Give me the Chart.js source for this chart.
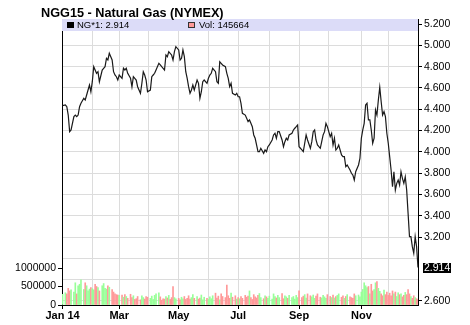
<!DOCTYPE html>
<html>
<head>
<meta charset="utf-8">
<script src="https://cdn.jsdelivr.net/npm/chart.js@4"></script>
<style>
  html, body { margin: 0; padding: 0; background: #fff; }
  #wrap { position: relative; width: 470px; height: 325px; }
</style>
</head>
<body>
<div id="wrap"><canvas id="chart"></canvas></div>
<script>
// ── DATA ─────────────────────────────────────────────────────────────────────
const TITLE  = 'NGG15 - Natural Gas (NYMEX)';
const SYMBOL = 'NG*1';

// trading-day index within 2014 (0 = 2 Jan)
const days = [
  0,2,3,4,5,6,8,9,10,11,12,13,15,16,17,18,19,20,
  21,22,23,24,25,26,28,29,30,31,32,33,35,36,37,38,39,
  40,42,43,44,45,46,48,49,50,51,52,53,55,56,57,58,59,60,
  62,63,64,65,66,68,69,70,71,72,73,74,75,76,77,78,79,80,
  82,83,84,85,86,87,88,89,90,91,92,93,95,96,97,98,99,100,102,
  103,104,105,106,108,109,110,111,112,113,115,116,117,118,119,120,122,123,
  124,125,126,127,129,130,131,132,133,134,135,136,137,138,139,140,142,143,144,145,
  146,148,149,150,151,152,153,155,156,157,158,159,160,162,163,164,165,166,
  167,169,170,171,172,173,175,176,177,178,179,180,182,183,184,185,186,187,
  189,190,191,192,193,194,195,197,198,199,200,201,203,204,205,206,207,209,210,
  211,212,213,214,215,216,217,218,219,220,221,222,223,224,225,226,227,228,229,
  230,231,232,233,234,235,236,237,238,239,240,241,242,243,244,245,246,247,248,249,250,251
];

const prices = [
  4.434,4.440,4.424,4.346,4.190,4.206,4.331,4.346,4.331,4.346,4.424,4.456,4.503,4.487,4.534,4.581,4.628,4.565,
  4.659,4.800,4.769,4.738,4.753,4.659,4.769,4.785,4.800,4.879,4.863,4.926,4.863,4.753,4.722,4.706,4.675,
  4.722,4.691,4.785,4.769,4.785,4.738,4.691,4.612,4.706,4.691,4.675,4.612,4.550,4.644,4.753,4.722,4.675,4.565,
  4.581,4.706,4.722,4.738,4.769,4.832,4.816,4.800,4.785,4.769,4.910,4.894,4.941,4.926,4.910,4.863,4.941,4.988,
  4.957,4.863,4.879,4.957,4.894,4.753,4.691,4.612,4.550,4.581,4.628,4.581,4.675,4.644,4.503,4.565,4.659,4.675,4.644,
  4.691,4.722,4.738,4.785,4.753,4.659,4.644,4.847,4.832,4.816,4.800,4.738,4.691,4.612,4.644,4.550,4.534,4.550,
  4.518,4.518,4.456,4.362,4.346,4.315,4.284,4.300,4.268,4.237,4.159,4.128,4.065,4.002,4.002,4.034,3.987,4.018,4.002,4.049,
  4.065,4.112,4.159,4.175,4.128,4.190,4.190,4.112,4.049,4.096,4.128,4.112,4.159,4.175,4.206,4.222,4.237,4.253,
  4.049,4.018,4.002,4.081,4.159,4.112,4.034,4.096,4.190,4.206,4.112,4.065,4.034,4.096,4.159,4.190,4.268,4.237,
  4.143,4.175,4.065,4.128,4.018,4.034,4.065,3.971,3.955,3.955,3.861,3.877,3.830,3.799,3.783,3.736,3.814,3.877,3.940,
  4.128,4.206,4.268,4.440,4.456,4.300,4.300,4.206,4.081,4.128,4.393,4.346,4.487,4.607,4.471,4.346,4.378,4.331,4.175,
  4.081,3.955,3.830,3.673,3.814,3.642,3.705,3.736,3.689,3.814,3.752,3.705,3.767,3.642,3.423,3.204,3.204,3.110,3.048,3.204,3.110,2.914
];

const volumes = [
  290000,330000,300000,450000,380000,410000,350000,600000,300000,520000,560000,680000,420000,600000,520000,380000,430000,470000,
  440000,410000,560000,500000,470000,380000,520000,580000,450000,430000,520000,480000,420000,350000,300000,280000,270000,
  260000,270000,210000,280000,230000,180000,290000,200000,250000,150000,170000,230000,140000,250000,200000,160000,230000,210000,
  180000,240000,150000,260000,300000,330000,220000,130000,170000,160000,230000,190000,260000,150000,200000,500000,200000,170000,
  180000,140000,210000,170000,230000,150000,180000,250000,160000,200000,280000,180000,230000,160000,190000,270000,140000,210000,180000,
  150000,220000,170000,250000,320000,190000,240000,140000,300000,230000,200000,540000,250000,180000,320000,210000,250000,160000,
  200000,170000,230000,180000,260000,210000,240000,380000,200000,150000,280000,220000,190000,260000,310000,200000,170000,250000,220000,180000,
  240000,160000,300000,230000,190000,260000,200000,310000,170000,250000,220000,180000,260000,200000,230000,160000,260000,200000,
  380000,200000,240000,280000,190000,300000,250000,220000,270000,180000,240000,300000,210000,190000,260000,220000,180000,280000,
  230000,200000,270000,190000,230000,260000,300000,210000,250000,180000,230000,280000,220000,200000,180000,300000,250000,270000,220000,
  350000,420000,600000,520000,470000,500000,300000,560000,380000,420000,600000,630000,450000,370000,300000,250000,400000,280000,350000,
  260000,320000,250000,380000,300000,350000,230000,330000,280000,300000,220000,260000,340000,280000,420000,300000,230000,180000,250000,200000,170000,145664
];

// month starts as trading-day index, labels only on every second month
const monthStarts = [0,21,40,61,82,103,124,146,167,188,211,230];
const monthLabels = ['Jan 14','','Mar','','May','','Jul','','Sep','','Nov',''];
const priceTicks  = [2.6,2.8,3.0,3.2,3.4,3.6,3.8,4.0,4.2,4.4,4.6,4.8,5.0,5.2];
const volTicks    = [0,500000,1000000];

// ── STYLE ────────────────────────────────────────────────────────────────────
const FONT  = "'Liberation Sans', Arial, sans-serif";
const GRID  = '#dcdcdc';
const UP    = '#99ff99';
const DOWN  = '#ff9999';
const lastPrice = prices[prices.length - 1];
const lastVol   = volumes[volumes.length - 1];

const barColors = prices.map((p, i) => (i === 0 || p >= prices[i - 1]) ? UP : DOWN);

// title, legend strip and last-price box
const decor = {
  id: 'decor',
  beforeDatasetsDraw(chart) {
    const { ctx, chartArea: a } = chart;
    ctx.save();
    ctx.fillStyle = '#dcdcf8';
    ctx.fillRect(a.left, a.top, a.right - a.left, 12);

    ctx.font = '9.5px ' + FONT;
    ctx.textBaseline = 'middle';
    ctx.fillStyle = '#000';
    ctx.fillRect(a.left + 5, a.top + 3, 7, 6);
    ctx.fillText(SYMBOL + ': ' + lastPrice.toFixed(3), a.left + 15, a.top + 6.5);

    ctx.fillStyle = DOWN;
    ctx.fillRect(a.left + 126.5, a.top + 3.5, 6, 5);
    ctx.strokeStyle = '#333';
    ctx.lineWidth = 1;
    ctx.strokeRect(a.left + 126.5, a.top + 3.5, 6, 5);
    ctx.fillStyle = '#000';
    ctx.fillText('Vol: ' + lastVol, a.left + 137, a.top + 6.5);
    ctx.restore();
  },
  afterDraw(chart) {
    const { ctx, chartArea: a } = chart;
    ctx.save();
    ctx.fillStyle = '#000';
    ctx.font = 'bold 12.7px ' + FONT;
    ctx.textBaseline = 'alphabetic';
    ctx.fillText(TITLE, 41, 17);

    const py = chart.scales.y.getPixelForValue(lastPrice);
    ctx.fillRect(a.right + 5, Math.round(py) - 5, 28, 10);
    ctx.fillStyle = '#fff';
    ctx.font = '10.5px ' + FONT;
    ctx.textBaseline = 'middle';
    ctx.fillText(lastPrice.toFixed(3), a.right + 6, Math.round(py) + 0.5);
    ctx.restore();
  }
};

new Chart(document.getElementById('chart').getContext('2d'), {
  data: {
    datasets: [
      {
        type: 'line', yAxisID: 'y', order: 0,
        data: days.map((d, i) => ({ x: d, y: prices[i] })),
        borderColor: '#1a1a1a', borderWidth: 1.2, pointRadius: 0, tension: 0
      },
      {
        type: 'bar', yAxisID: 'yv', order: 1,
        data: days.map((d, i) => ({ x: d, y: volumes[i] })),
        backgroundColor: barColors, barThickness: 1
      }
    ]
  },
  options: {
    responsive: true, maintainAspectRatio: false, animation: false,
    layout: { padding: { top: 19, left: 0, right: 0, bottom: 0 } },
    plugins: { legend: { display: false }, tooltip: { enabled: false } },
    scales: {
      x: {
        type: 'linear', position: 'bottom', min: -0.4, max: 251, offset: false,
        afterBuildTicks: s => { s.ticks = monthStarts.map(v => ({ value: v })); },
        afterFit: s => { s.height = 20; },
        grid: { offset: false, color: GRID, tickLength: 4, tickColor: c => monthLabels[c.index] ? '#000' : 'rgba(0,0,0,0)' },
        border: { color: '#000' },
        ticks: {
          autoSkip: false, maxRotation: 0, padding: 0, color: '#000',
          font: { family: FONT, size: 11, weight: 'bold' },
          callback: (v, i) => monthLabels[i]
        }
      },
      y: {
        type: 'linear', position: 'right', min: 2.5624, max: 5.2478,
        afterBuildTicks: s => { s.ticks = priceTicks.map(v => ({ value: v })); },
        afterFit: s => { s.width = 52; },
        grid: {
          color: GRID, tickLength: 4,
          tickColor: c => (c.tick && Math.abs(c.tick.value - lastPrice) < 0.12) ? 'rgba(0,0,0,0)' : '#000'
        },
        border: { color: '#000' },
        ticks: {
          padding: 2, color: '#000', font: { family: FONT, size: 10.5 },
          callback: v => Math.abs(v - lastPrice) < 0.12 ? '' : v.toFixed(3)
        }
      },
      yv: {
        type: 'linear', position: 'left', min: 0, max: 7730000,
        afterBuildTicks: s => { s.ticks = volTicks.map(v => ({ value: v })); },
        afterFit: s => { s.width = 62; },
        grid: { drawOnChartArea: false, tickLength: 4, tickColor: '#000' },
        border: { color: '#000' },
        ticks: { padding: 2, color: '#000', font: { family: FONT, size: 10.5 }, callback: v => String(v) }
      }
    }
  },
  plugins: [decor]
});
</script>
</body>
</html>
